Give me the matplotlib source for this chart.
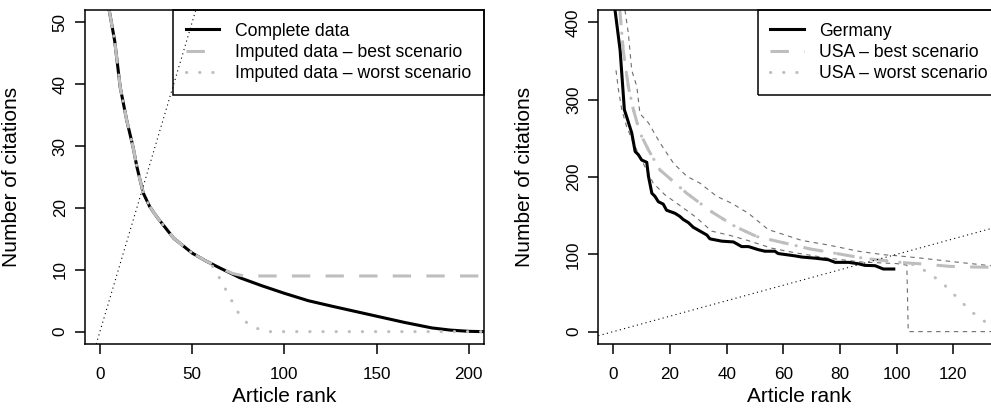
import matplotlib.pyplot as plt

plt.rcParams["font.family"] = ["Liberation Sans", "DejaVu Sans"]

# Left panel: citation curve with two imputation scenarios
rank_complete = [5, 8, 11, 14.5, 18, 20, 23.5, 27, 31, 40, 50, 57, 65, 76, 88,
                 100, 113, 126, 138, 150, 165, 180, 190, 200, 208]
cites_complete = [52, 47, 39.5, 34.2, 29.8, 26.7, 22.4, 20.2, 18.5, 15.1, 12.7,
                  11.5, 10.3, 8.7, 7.4, 6.2, 5.0, 4.1, 3.3, 2.5, 1.5, 0.6, 0.25,
                  0.05, 0]
rank_best = [5, 8, 11, 14.5, 18, 20, 23.5, 27, 31, 40, 50, 57, 65, 72, 78, 208]
cites_best = [52, 47, 39.5, 34.2, 29.8, 26.7, 22.4, 20.2, 18.5, 15.1, 12.7,
              11.5, 10.3, 9.4, 9.0, 9.0]
rank_worst = [5, 8, 11, 14.5, 18, 20, 23.5, 27, 31, 40, 50, 57, 61, 65, 68.6,
              72, 75.5, 80.4, 87, 92, 208]
cites_worst = [52, 47, 39.5, 34.2, 29.8, 26.7, 22.4, 20.2, 18.5, 15.1, 12.7,
               11.5, 10.6, 8.6, 6.6, 4.7, 2.8, 1.2, 0.3, 0, 0]

# Right panel: Germany vs USA
rank_de = [0.6, 2.4, 3.9, 4.7, 6.5, 7.7, 8.8, 10, 11.8, 12.4, 13.6, 14.7, 15.9,
           17.6, 18.8, 21.8, 23.5, 24.7, 26.5, 28.2, 30.6, 33, 34.1, 38.3, 42.4,
           45.3, 47.7, 51.2, 53.5, 57, 58.2, 64.1, 66.5, 71.2, 75.9, 78.3, 83,
           86.5, 88.8, 92.4, 95.3, 99]
cites_de = [416, 364, 287, 278, 257, 233, 229, 222, 219, 201, 179, 175, 168,
            165, 157, 153, 149, 145, 141, 135, 130, 125, 120, 117, 116, 110, 110,
            106, 104, 104, 101, 98, 96.5, 95, 93, 89.6, 89.6, 87.8, 85.7, 85.3,
            81, 81]
rank_usa = [2.2, 3.5, 5.3, 7.1, 9.4, 12.4, 16.5, 20.6, 25.9, 34.7, 43, 50.6,
            60, 69.4, 78.9, 88.2, 97.7, 103]
cites_usa = [420, 364, 317, 287, 257, 235, 209, 196, 179, 155, 136, 123, 115,
             107, 101, 95, 91, 89]
rank_usa_best = [103, 108, 118.8, 127, 138]
cites_usa_best = [89, 87.8, 84.4, 83.6, 83]
rank_usa_worst = [103, 105, 108.9, 112.7, 116.5, 120, 123.3, 126.7, 130.6, 135,
                  138]
cites_usa_worst = [89, 88, 81.4, 72.3, 61.6, 49, 37, 25, 14.6, 1, 0]
rank_upper = [4.1, 5.3, 6.5, 8.3, 9.4, 12.4, 16.5, 21.2, 25.9, 30.6, 36.5, 41.8,
              47.7, 54.7, 66.5, 75.9, 86.5, 95.3, 100, 108.3, 118.8, 133, 140]
cites_upper = [416, 386, 338, 317, 282, 270, 244, 218, 201, 192, 175, 166, 153,
               132, 118, 112, 104, 99.5, 98.2, 95.2, 90.9, 85.3, 83]
rank_lower = [0.95, 1.8, 3, 4.7, 7.1, 9.4, 14.1, 18.2, 24.7, 28.8, 34.7, 40.6,
              46.5, 55.9, 64.1, 75.9, 87.7, 100, 103.6, 104.1, 140]
cites_lower = [338, 313, 287, 265, 244, 226, 192, 177, 160, 149, 130, 125, 119,
               108, 102, 95, 90, 88, 86, 0, 0]

light = "#BEBEBE"
dark = "#6E6E6E"
fig = plt.figure(figsize=(9.91, 4.09), dpi=100)
ax1 = fig.add_axes([85 / 991, 65 / 409, 399 / 991, 334 / 409])
ax2 = fig.add_axes([598.3 / 991, 65 / 409, 402.3 / 991, 334 / 409])

thick = 2.2
dash = (0, (6, 5))
dot = (0, (0.1, 4.2))

# left
ax1.plot(rank_complete, cites_complete, color="black", lw=thick, label="Complete data")
ax1.plot(rank_best, cites_best, color=light, lw=thick, linestyle=dash,
         label="Imputed data – best scenario")
ax1.plot(rank_worst, cites_worst, color=light, lw=thick, linestyle=dot,
         dash_capstyle="round", label="Imputed data – worst scenario")
ax1.axline((0, 0), slope=1, color="black", lw=0.8, linestyle=(0, (1, 3)), zorder=5)
ax1.set_xlim(-8.1, 208.3)
ax1.set_ylim(-2, 52)
ax1.set_xticks([0, 50, 100, 150, 200])
ax1.set_yticks([0, 10, 20, 30, 40, 50])

# right
ax2.plot(rank_upper, cites_upper, color=dark, lw=0.8, linestyle=(0, (4, 4)))
ax2.plot(rank_lower, cites_lower, color=dark, lw=0.8, linestyle=(0, (4, 4)))
ax2.plot(rank_de, cites_de, color="black", lw=thick, label="Germany")
ax2.plot(rank_usa + rank_usa_best[1:], cites_usa + cites_usa_best[1:], color=light,
         lw=thick, linestyle=dash, label="USA – best scenario")
ax2.plot(rank_usa + rank_usa_worst[1:], cites_usa + cites_usa_worst[1:], color=light,
         lw=thick, linestyle=dot, dash_capstyle="round", label="USA – worst scenario")
ax2.axline((0, 0), slope=1, color="black", lw=0.8, linestyle=(0, (1, 3)))
ax2.set_xlim(-5.3, 136.7)
ax2.set_ylim(-16, 416)
ax2.set_xticks([0, 20, 40, 60, 80, 100, 120])
ax2.set_yticks([0, 100, 200, 300, 400])

for ax in (ax1, ax2):
    for s in ax.spines.values():
        s.set_linewidth(1.1)
    ax.tick_params(length=7.5, width=1.1, labelsize=12.3, color="black")
    ax.tick_params(axis="x", pad=9)
    ax.tick_params(axis="y", pad=5, labelrotation=90)
    for lab in ax.get_yticklabels():
        lab.set_va("center")
    ax.set_xlabel("Article rank", fontsize=15)
    ax.set_ylabel("Number of citations", fontsize=15)
    ax.xaxis.set_label_coords(0.5, -0.13)
    ax.yaxis.set_label_coords(-0.16, 0.5)
    leg = ax.legend(loc="upper right", bbox_to_anchor=(1, 1), borderaxespad=0,
                    fontsize=12.7, fancybox=False, framealpha=1, edgecolor="black",
                    handlelength=1.9, handletextpad=0.9, labelspacing=0.24,
                    borderpad=0.71)
    leg.get_frame().set_facecolor("none")
    leg.get_frame().set_linewidth(1.1)

fig.savefig("out.png", dpi=100)
